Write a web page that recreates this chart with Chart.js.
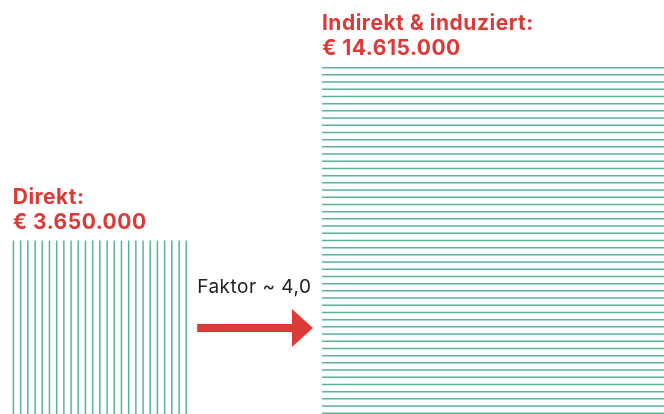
<!DOCTYPE html>
<html>
<head>
<meta charset="utf-8">
<script src="https://cdn.jsdelivr.net/npm/chart.js@4.4.0/dist/chart.umd.min.js"></script>
<style>
    html, body { margin: 0; padding: 0; background: #fff; }
    #wrap { width: 664px; height: 414px; position: relative; }
</style>
</head>
<body>
<div id="wrap"><canvas id="chart"></canvas></div>
<script>
// Werte (Euro)
const categories = ["Direkt:", "Indirekt & induziert:"];
const values = [3650000, 14615000];
const stripeDir = ["vertical", "horizontal"];

// Layout (Einheiten der Achsen, nicht Daten)
const UNIT = 1000000;
const xStart = [0.14, 3.546];
const xMax = 7.313;
const yMax = 4.56;
const red = "#dc3a37";
const green = "#5bb38f";

function side(v) {
    return Math.sqrt(v / UNIT); // Fläche ~ Wert
}

function squarePoints(i) {
    let s = side(values[i]);
    let x0 = xStart[i];
    return [
        { x: x0, y: 0 },
        { x: x0, y: s },
        { x: x0 + s, y: s },
        { x: x0 + s, y: 0 },
    ];
}

const stripes = {
    id: "stripes",
    afterDatasetsDraw: function (chart) {
        let ctx = chart.ctx;
        let area = chart.chartArea;
        ctx.save();
        ctx.beginPath();
        ctx.rect(area.left, area.top, area.right - area.left, area.bottom - area.top);
        ctx.clip();
        let boxes = [];
        chart.data.datasets.forEach((ds, i) => {
            let pts = chart.getDatasetMeta(i).data;
            let xs = pts.map(p => p.x), ys = pts.map(p => p.y);
            let box = { l: Math.min(...xs), r: Math.max(...xs), t: Math.min(...ys), b: Math.max(...ys) };
            boxes.push(box);
            ctx.strokeStyle = green;
            ctx.lineWidth = 1.5;
            let gap = 7.2;
            ctx.beginPath();
            if (stripeDir[i] == "vertical") {
                for (let x = box.l + 0.75; x <= box.r + 0.5; x += gap) {
                    ctx.moveTo(x, box.t);
                    ctx.lineTo(x, box.b);
                }
            } else {
                for (let y = box.t + 0.75; y <= box.b + 0.5; y += gap) {
                    ctx.moveTo(box.l, y);
                    ctx.lineTo(box.r, y);
                }
            }
            ctx.stroke();

            // Beschriftung
            ctx.fillStyle = red;
            ctx.font = "700 21px Inter, 'Noto Sans', sans-serif";
            ctx.letterSpacing = "0.5px";
            ctx.textBaseline = "alphabetic";
            ctx.textAlign = "left";
            ctx.fillText(categories[i], box.l, box.t - 37);
            ctx.fillText("€ " + values[i].toLocaleString("de-DE"), box.l, box.t - 12);
        });
        ctx.restore();

        // Pfeil mit Faktor
        let a = boxes[0], b = boxes[1];
        let factor = (values[1] / values[0]).toFixed(1).replace(".", ",");
        let x0 = a.r + 11, tip = b.l - 9, headL = tip - 21;
        let cy = 328;
        ctx.save();
        ctx.fillStyle = "#222";
        ctx.font = "400 19px Inter, 'Noto Sans', sans-serif";
        ctx.letterSpacing = "0.5px";
        ctx.fillText("Faktor ~ " + factor, x0, 293);
        ctx.fillStyle = red;
        ctx.fillRect(x0, cy - 4, headL - x0 + 1, 8);
        ctx.beginPath();
        ctx.moveTo(headL, cy - 19);
        ctx.lineTo(tip, cy);
        ctx.lineTo(headL, cy + 19);
        ctx.closePath();
        ctx.fill();
        ctx.restore();
    }
};

new Chart(document.getElementById("chart"), {
    type: "line",
    data: {
        datasets: categories.map((c, i) => ({
            label: c,
            data: squarePoints(i),
            fill: "origin",
            backgroundColor: "rgba(255,255,255,0)",
            borderWidth: 0,
            pointRadius: 0,
            tension: 0,
        })),
    },
    options: {
        responsive: true,
        maintainAspectRatio: false,
        animation: false,
        layout: { padding: 0 },
        plugins: {
            legend: { display: false },
            tooltip: { enabled: false },
        },
        scales: {
            x: { type: "linear", min: 0, max: xMax, display: false },
            y: { type: "linear", min: 0, max: yMax, display: false },
        },
    },
    plugins: [stripes],
});
</script>
</body>
</html>
